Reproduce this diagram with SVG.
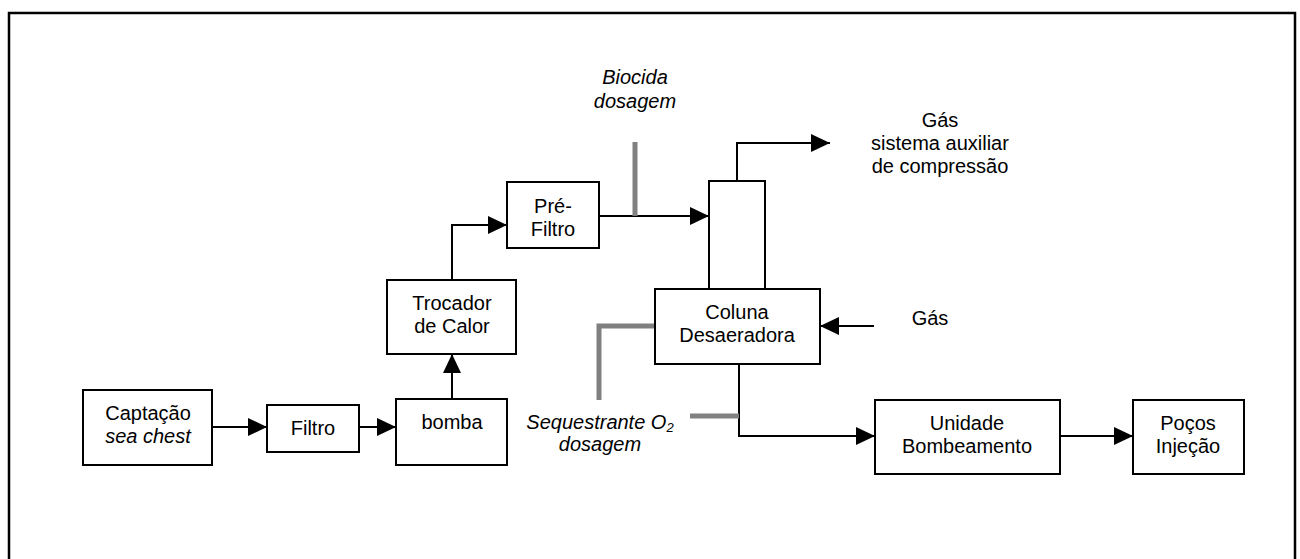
<svg xmlns="http://www.w3.org/2000/svg" width="1300" height="559" viewBox="0 0 1300 559">
<style>
.box{fill:#fff;stroke:#000;stroke-width:2}
.t{font-family:"Liberation Sans",Arial,sans-serif;font-size:20px;fill:#000;text-anchor:middle}
.i{font-style:italic}
.c{fill:none;stroke:#000;stroke-width:2}
.g{fill:none;stroke:#808080;stroke-width:5}
</style>
<defs>
<marker id="ah" markerUnits="userSpaceOnUse" markerWidth="20" markerHeight="20" refX="19" refY="9" orient="auto">
<path d="M0,0 L19,9 L0,18 z" fill="#000"/>
</marker>
</defs>
<rect x="9" y="13" width="1286" height="560" fill="none" stroke="#000" stroke-width="2.5"/>
<g id="connectors">
<line class="c" x1="212" y1="427" x2="267" y2="427" marker-end="url(#ah)"/>
<line class="c" x1="359" y1="427" x2="396" y2="427" marker-end="url(#ah)"/>
<line class="c" x1="452" y1="399" x2="452" y2="354" marker-end="url(#ah)"/>
<polyline class="c" points="452,280 452,225 507,225" marker-end="url(#ah)"/>
<line class="c" x1="599" y1="216" x2="709" y2="216" marker-end="url(#ah)"/>
<polyline class="c" points="737,181 737,143 830,143" marker-end="url(#ah)"/>
<line class="c" x1="874" y1="326" x2="820" y2="326" marker-end="url(#ah)"/>
<polyline class="c" points="739,364 739,436 875,436" marker-end="url(#ah)"/>
<line class="c" x1="1060" y1="436" x2="1133" y2="436" marker-end="url(#ah)"/>
<line class="g" x1="635" y1="142" x2="635" y2="216"/>
<polyline class="g" points="655,326 599,326 599,400"/>
<line class="g" x1="690" y1="416" x2="739" y2="416"/>
</g>
<g id="captacao">
<rect class="box" x="83" y="390" width="129" height="75"/>
<text class="t" x="148" y="420">Captação</text>
<text class="t i" x="148" y="443">sea chest</text>
</g>
<g id="filtro">
<rect class="box" x="267" y="405" width="92" height="47"/>
<text class="t" x="313" y="435">Filtro</text>
</g>
<g id="bomba">
<rect class="box" x="396" y="399" width="111" height="66"/>
<text class="t" x="452" y="429">bomba</text>
</g>
<g id="trocador">
<rect class="box" x="387" y="280" width="129" height="74"/>
<text class="t" x="452" y="310">Trocador</text>
<text class="t" x="452" y="333">de Calor</text>
</g>
<g id="prefiltro">
<rect class="box" x="507" y="182" width="92" height="66"/>
<text class="t" x="553" y="213">Pré-</text>
<text class="t" x="553" y="236">Filtro</text>
</g>
<g id="coluna-topo">
<rect class="box" x="709" y="181" width="56" height="108"/>
</g>
<g id="coluna">
<rect class="box" x="655" y="289" width="165" height="75"/>
<text class="t" x="737" y="319">Coluna</text>
<text class="t" x="737" y="342">Desaeradora</text>
</g>
<g id="unidade">
<rect class="box" x="875" y="400" width="185" height="74"/>
<text class="t" x="967" y="430">Unidade</text>
<text class="t" x="967" y="453">Bombeamento</text>
</g>
<g id="pocos">
<rect class="box" x="1133" y="400" width="111" height="74"/>
<text class="t" x="1188" y="430">Poços</text>
<text class="t" x="1188" y="453">Injeção</text>
</g>
<g id="biocida">
<text class="t i" x="635" y="84">Biocida</text>
<text class="t i" x="635" y="108">dosagem</text>
</g>
<g id="gas-saida">
<text class="t" x="940" y="127">Gás</text>
<text class="t" x="940" y="150">sistema auxiliar</text>
<text class="t" x="940" y="173">de compressão</text>
</g>
<g id="gas-entrada">
<text class="t" x="930" y="325">Gás</text>
</g>
<g id="sequestrante">
<text class="t i" x="600" y="429">Sequestrante O<tspan font-size="13" dy="3">2</tspan></text>
<text class="t i" x="600" y="451">dosagem</text>
</g>
</svg>
